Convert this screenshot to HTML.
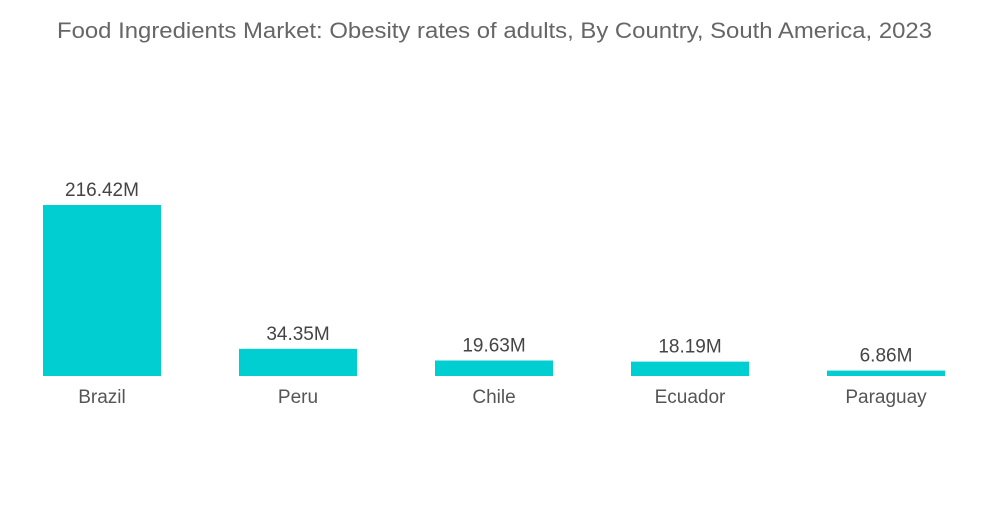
<!DOCTYPE html>
<html><head><meta charset="utf-8"><style>
body{margin:0;background:#fff;width:1000px;height:504px;overflow:hidden;font-family:"Liberation Sans",sans-serif}
</style></head><body>
<svg width="1000" height="504">
<text x="57" y="38" font-size="22" fill="#666" textLength="875" lengthAdjust="spacingAndGlyphs">Food Ingredients Market: Obesity rates of adults, By Country, South America, 2023</text>
<g id="bars"></g>
</svg>
<script>
const categories=["Brazil","Peru","Chile","Ecuador","Paraguay"];
const values=[216.42,34.35,19.63,18.19,6.86];
const labels=["216.42M","34.35M","19.63M","18.19M","6.86M"];
const base=376, maxH=171, maxV=216.42;
const y=v=>base-v/maxV*maxH;
const x=i=>43+i*196;
const g=document.getElementById('bars');
const ns='http://www.w3.org/2000/svg';
categories.forEach((c,i)=>{
  const r=document.createElementNS(ns,'rect');
  r.setAttribute('x',x(i));r.setAttribute('width',118);
  r.setAttribute('y',y(values[i]));r.setAttribute('height',base-y(values[i]));
  r.setAttribute('fill','#00CED1');
  
  
  g.appendChild(r);
  const t=document.createElementNS(ns,'text');
  t.setAttribute('x',x(i)+59);t.setAttribute('y',y(values[i])-9);
  t.setAttribute('text-anchor','middle');t.setAttribute('font-size','19');t.setAttribute('fill','#444');
  t.textContent=labels[i];
  
  
  g.appendChild(t);
  const l=document.createElementNS(ns,'text');
  l.setAttribute('x',x(i)+59);l.setAttribute('y',403);
  l.setAttribute('text-anchor','middle');l.setAttribute('font-size','19');l.setAttribute('fill','#555');
  l.textContent=c;
  
  
  g.appendChild(l);
});
</script>
</body></html>
